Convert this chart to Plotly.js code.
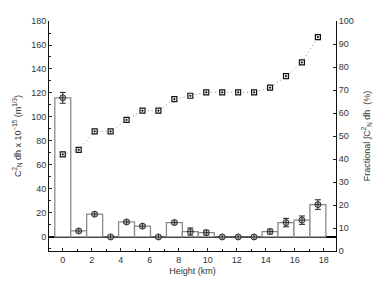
<!DOCTYPE html>
<html>
<head>
<meta charset="utf-8">
<script src="https://cdn.plot.ly/plotly-3.0.1.min.js"></script>
<style>html,body{margin:0;padding:0;background:#fff;}#chart{width:374px;height:281px;}</style>
</head>
<body>
<div id="chart"></div>
<script>
// Heights (km) of each layer
const heights = [0, 1.1, 2.2, 3.3, 4.4, 5.5, 6.6, 7.7, 8.8, 9.9, 11, 12.1, 13.2, 14.3, 15.4, 16.5, 17.6];
// Cn2 dh x 1e-15 per layer (bars)
const barVals = [116, 5, 19, 0, 12.5, 9, 0, 12, 4.5, 3.6, 0, 0, 0, 4.5, 12, 14, 27];
// Measured points with error
const pointVals = [116, 5, 19, 0, 12.5, 9, 0, 12, 4.5, 3.6, 0, 0, 0, 4.5, 12, 14, 27];
const pointErr = [4.5, 1.2, 1.2, 1, 1.2, 1.2, 1, 1.2, 3, 2, 1, 1, 1, 2, 3.5, 3.5, 4];
// Fractional cumulative (%)
const fracVals = [42, 44, 52, 52, 57, 61, 61, 66, 67.5, 69, 69, 69, 69, 71, 76, 82, 93];
const xTicks = [0, 2, 4, 6, 8, 10, 12, 14, 16, 18];

const font = {family: 'Liberation Sans, Arial, sans-serif', size: 9, color: '#333'};

const traces = [
  {
    type: 'bar', x: heights, y: barVals, width: 1.1,
    marker: {color: '#ffffff', line: {color: '#8a8a8a', width: 1.3}},
    hoverinfo: 'skip', yaxis: 'y'
  },
  {
    type: 'scatter', mode: 'markers', x: heights, y: pointVals,
    error_y: {type: 'data', array: pointErr, visible: true, color: '#222', thickness: 1, width: 3},
    marker: {symbol: 'circle-cross', size: 6, color: '#bdbdbd', line: {width: 1, color: '#333'}},
    yaxis: 'y'
  },
  {
    type: 'scatter', mode: 'lines+markers', x: heights, y: fracVals,
    line: {color: '#888', width: 1, dash: '1px,3px'},
    marker: {symbol: 'square-dot', size: 5, color: '#ffffff', line: {width: 1.2, color: '#111'}},
    yaxis: 'y2'
  }
];

const layout = {
  width: 374, height: 281,
  margin: {l: 49, r: 38, t: 21, b: 30},
  paper_bgcolor: '#fff', plot_bgcolor: '#fff',
  showlegend: false,
  font: font,
  bargap: 0,
  xaxis: {
    range: [-0.95, 18.85], tickvals: xTicks, ticktext: xTicks.map(String),
    ticks: 'inside', ticklen: 3, tickcolor: '#222',
    minor: {dtick: 1, tick0: 1, ticks: 'inside', ticklen: 2, tickcolor: '#222'},
    showline: true, linecolor: '#111', linewidth: 1, mirror: false,
    showgrid: false, zeroline: false,
    title: {text: 'Height (km)', font: font, standoff: 3},
    tickfont: font
  },
  yaxis: {
    range: [-11.7, 180], dtick: 20, tick0: 0,
    ticks: 'inside', ticklen: 3, tickcolor: '#222',
    minor: {dtick: 10, ticks: 'inside', ticklen: 2, tickcolor: '#222'},
    showline: true, linecolor: '#111', linewidth: 1,
    showgrid: false, zeroline: true, zerolinecolor: '#000', zerolinewidth: 1.2,
    title: {text: 'C<sup>2</sup><sub>N</sub> dh x 10<sup>−15</sup> (m<sup>1/3</sup>)', font: font, standoff: 8},
    tickfont: font
  },
  yaxis2: {
    overlaying: 'y', side: 'right', range: [0, 100], dtick: 10,
    ticks: 'inside', ticklen: 3, tickcolor: '#222',
    showline: true, linecolor: '#111', linewidth: 1,
    showgrid: false, zeroline: false,
    title: {text: 'Fractional ∫C<sup>2</sup><sub>N</sub> dh  (%)', font: font, standoff: 10},
    tickfont: font
  }
};

Plotly.newPlot('chart', traces, layout, {displayModeBar: false, staticPlot: true});
</script>
</body>
</html>
